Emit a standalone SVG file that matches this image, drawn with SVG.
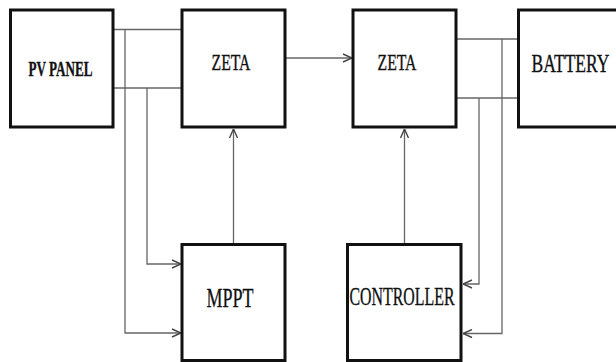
<svg xmlns="http://www.w3.org/2000/svg" width="616" height="362" viewBox="0 0 616 362">
<style>
.box{fill:#fff;stroke:#111;stroke-width:3}
.lbl{font-family:"Liberation Serif","Times New Roman",serif;fill:#111;stroke:#111;stroke-width:0.35;text-anchor:start}
.ln{fill:none;stroke:#666;stroke-width:1.3}
</style>
<defs>
<marker id="ah" viewBox="0 0 10 10" refX="10" refY="5" markerWidth="10" markerHeight="10" markerUnits="userSpaceOnUse" orient="auto">
<path d="M1,1 L10,5 L1,9" fill="none" stroke="#444" stroke-width="1.4"/>
</marker>
</defs>
<rect width="616" height="362" fill="#fff"/>
<g id="connectors">
<path class="ln" d="M113,29.5 H182"/>
<path class="ln" d="M113,88 H182"/>
<path class="ln" d="M125,29.5 V333 H181" marker-end="url(#ah)"/>
<path class="ln" d="M147,88 V264 H181" marker-end="url(#ah)"/>
<path class="ln" d="M233.5,244 V129" marker-end="url(#ah)"/>
<path class="ln" d="M285,58 H352" marker-end="url(#ah)"/>
<path class="ln" d="M456,39 H518"/>
<path class="ln" d="M456,98 H518"/>
<path class="ln" d="M479,98 V284 H463" marker-end="url(#ah)"/>
<path class="ln" d="M502,39 V333.5 H463" marker-end="url(#ah)"/>
<path class="ln" d="M404.5,244 V129" marker-end="url(#ah)"/>
</g>
<g id="pv">
<rect class="box" x="10.5" y="10" width="102.5" height="117"/>
<text class="lbl" x="28.5" y="76" font-size="21" font-weight="bold" textLength="64" lengthAdjust="spacingAndGlyphs">PV PANEL</text>
</g>
<g id="zeta1">
<rect class="box" x="182" y="10" width="103" height="117"/>
<text class="lbl" x="211.5" y="70" font-size="24" textLength="39" lengthAdjust="spacingAndGlyphs">ZETA</text>
</g>
<g id="zeta2">
<rect class="box" x="353" y="10" width="103" height="117"/>
<text class="lbl" x="377.5" y="69.5" font-size="24" textLength="39" lengthAdjust="spacingAndGlyphs">ZETA</text>
</g>
<g id="battery">
<rect class="box" x="518.5" y="10" width="106" height="117"/>
<text class="lbl" x="531.5" y="71.5" font-size="26" textLength="78" lengthAdjust="spacingAndGlyphs">BATTERY</text>
</g>
<g id="mppt">
<rect class="box" x="182" y="244.5" width="103" height="116"/>
<text class="lbl" x="206.5" y="307" font-size="28" textLength="47" lengthAdjust="spacingAndGlyphs">MPPT</text>
</g>
<g id="controller">
<rect class="box" x="347.5" y="244.5" width="113.5" height="116"/>
<text class="lbl" x="349.5" y="305" font-size="26" textLength="105" lengthAdjust="spacingAndGlyphs">CONTROLLER</text>
</g>
</svg>
